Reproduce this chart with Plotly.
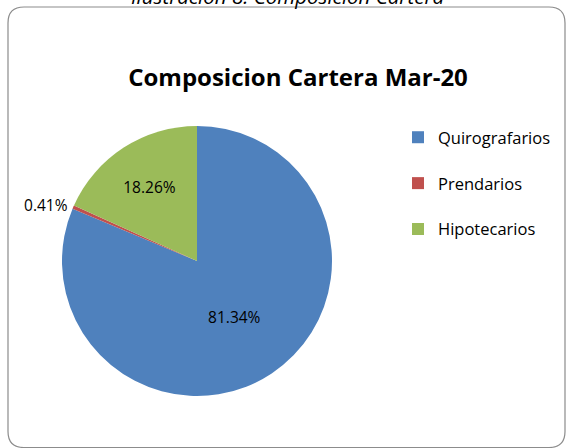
import plotly.graph_objects as go

W, H = 566, 448

# data
categorias = ["Quirografarios", "Prendarios", "Hipotecarios"]
porcentajes = [81.34, 0.41, 18.26]
colores = ["#4F81BD", "#C0504D", "#9BBB59"]

titulo = "Composicion Cartera Mar-20"
leyenda_superior = "Ilustración 8: Composición Cartera"

FUENTE = "Open Sans"


def px_x(x):
    return x / W


def px_y(y):
    return 1 - y / H


def rounded_rect(x0, y0, x1, y1, r):
    # path in paper units, corners given in pixels
    pts = [
        f"M{px_x(x0 + r)},{px_y(y0)}",
        f"L{px_x(x1 - r)},{px_y(y0)}",
        f"Q{px_x(x1)},{px_y(y0)} {px_x(x1)},{px_y(y0 + r)}",
        f"L{px_x(x1)},{px_y(y1 - r)}",
        f"Q{px_x(x1)},{px_y(y1)} {px_x(x1 - r)},{px_y(y1)}",
        f"L{px_x(x0 + r)},{px_y(y1)}",
        f"Q{px_x(x0)},{px_y(y1)} {px_x(x0)},{px_y(y1 - r)}",
        f"L{px_x(x0)},{px_y(y0 + r)}",
        f"Q{px_x(x0)},{px_y(y0)} {px_x(x0 + r)},{px_y(y0)}",
        "Z",
    ]
    return " ".join(pts)


cx, cy, rad = 197, 261, 135

fig = go.Figure(go.Pie(
    labels=[c + "<br> " for c in categorias],
    values=porcentajes,
    text=[f"{v:.2f}%" for v in porcentajes],
    textinfo="text",
    textposition=["inside", "outside", "inside"],
    insidetextorientation="horizontal",
    marker=dict(colors=colores),
    sort=False,
    direction="clockwise",
    rotation=0,
    hoverinfo="label+text",
    textfont=dict(family=FUENTE, size=15.5, color="black"),
    domain=dict(x=[px_x(cx - rad), px_x(cx + rad)],
                y=[px_y(cy + rad), px_y(cy - rad)]),
))

fig.update_layout(
    width=W,
    height=H,
    margin=dict(l=0, r=0, t=0, b=0),
    paper_bgcolor="white",
    font=dict(family=FUENTE, color="black"),
    title=dict(text=f"<b>{titulo}</b>", x=px_x(298), xanchor="center",
               y=px_y(78), yanchor="middle", font=dict(size=24)),
    legend=dict(x=px_x(398), y=px_y(120), xanchor="left", yanchor="top",
                valign="top", font=dict(size=16.5), bgcolor="rgba(0,0,0,0)"),
    shapes=[dict(type="path", xref="paper", yref="paper",
                 path=rounded_rect(8, 7, 565, 447.5, 16),
                 line=dict(color="#8C8C8C", width=1.2))],
    annotations=[dict(text=f"<i>{leyenda_superior}</i>", xref="paper", yref="paper",
                      x=px_x(288), y=px_y(12.5), xanchor="center", yanchor="bottom",
                      showarrow=False, font=dict(size=20.5))],
)

fig.write_html("out.html", config={"displayModeBar": False},
               post_script="document.body.style.margin='0';")
